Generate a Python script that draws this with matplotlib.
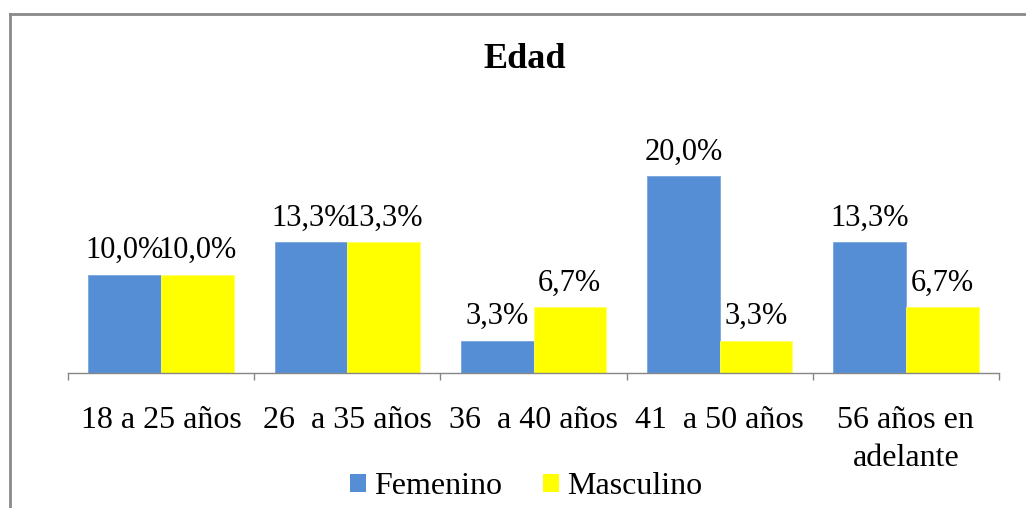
import numpy as np
import matplotlib
matplotlib.use('Agg')
import matplotlib.pyplot as plt
from matplotlib.patches import Patch
from matplotlib.lines import Line2D

plt.rcParams['font.family'] = ['Liberation Serif', 'DejaVu Serif']

categorias = ['18 a 25 años', '26  a 35 años', '36  a 40 años', '41  a 50 años', '56 años en\nadelante']
femenino = [10.0, 13.3, 3.3, 20.0, 13.3]
masculino = [10.0, 13.3, 6.7, 3.3, 6.7]
etiquetas_fem = ['10,0%', '13,3%', '3,3%', '20,0%', '13,3%']
etiquetas_mas = ['10,0%', '13,3%', '6,7%', '3,3%', '6,7%']

azul = '#558ED5'
amarillo = '#FFFF00'
gris = '#868686'

W, H = 1026, 508
fig = plt.figure(figsize=(W / 100, H / 100), dpi=100)

# plot area in pixels: x 68..999, y 100..373
ax = fig.add_axes([68 / W, (H - 373) / H, (999 - 68) / W, 273 / H])

x = np.arange(len(categorias))
ancho = 0.39
b1 = ax.bar(x - ancho / 2, femenino, ancho, color=azul, edgecolor='#7aa6dd', linewidth=0.6)
b2 = ax.bar(x + ancho / 2, masculino, ancho, color=amarillo, edgecolor='#ffff66', linewidth=0.6)

for barras, etqs in ((b1, etiquetas_fem), (b2, etiquetas_mas)):
    for b, t in zip(barras, etqs):
        ax.annotate(t, (b.get_x() + b.get_width() / 2, b.get_height()),
                    xytext=(0, 12), textcoords='offset points',
                    ha='center', va='baseline', fontsize=22, color='black')

ax.set_xlim(-0.5, len(categorias) - 0.5)
ax.set_ylim(0, 27.77)
ax.set_yticks([])
ax.set_xticks(x)
ax.set_xticklabels(categorias, fontsize=23, linespacing=1.4)
ax.tick_params(axis='x', which='major', length=0, pad=24)
ax.set_xticks(np.arange(-0.5, len(categorias)), minor=True)
ax.tick_params(axis='x', which='minor', length=5, width=1, color=gris, direction='out')
for s in ['top', 'right', 'left']:
    ax.spines[s].set_visible(False)
ax.spines['bottom'].set_color(gris)
ax.spines['bottom'].set_linewidth(1)

fig.text(524.5 / W, (H - 68) / H, 'Edad', ha='center', va='baseline',
         fontsize=26, fontweight='bold')

handles = [Patch(facecolor=azul), Patch(facecolor=amarillo)]
fig.legend(handles, ['Femenino', 'Masculino'], loc='center', ncol=2,
           bbox_to_anchor=(526 / W, (H - 487) / H), frameon=False,
           fontsize=23, handlelength=0.5, handleheight=0.5,
           handletextpad=0.25, columnspacing=1.3, borderpad=0)

# chart border (top and left visible)
fig.add_artist(Line2D([9.5 / W, 1.0], [(H - 13.5) / H] * 2, color='#8a8a8a', lw=2))
fig.add_artist(Line2D([9.5 / W] * 2, [0, (H - 13.5) / H], color='#8a8a8a', lw=2))

fig.savefig('out.png', dpi=100, facecolor='white')
